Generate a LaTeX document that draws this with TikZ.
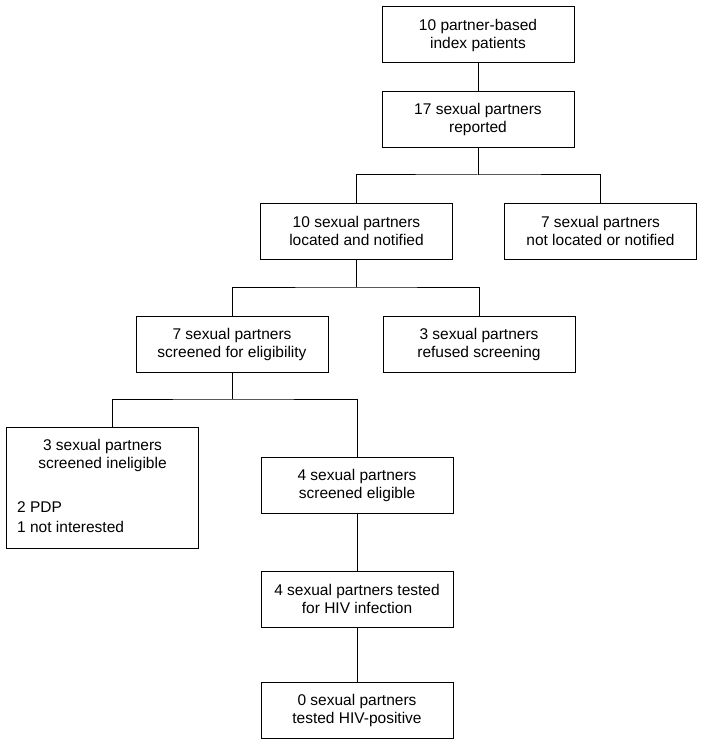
\documentclass[tikz,border=0pt]{standalone}
\usepackage{fontspec}
\setmainfont{Liberation Sans}
\begin{document}
\begin{tikzpicture}[x=1pt,y=-1pt,
  txt/.style={font=\fontsize{15.5}{18}\selectfont, inner sep=0pt},
  box/.style={txt, draw, line width=1pt, minimum width=192pt, minimum height=56pt, align=center},
  link/.style={draw, line width=1pt}]
\useasboundingbox (0,0) rectangle (704,746);
\node[box] (b1) at (478,35) {10 partner-based\\index patients};
\node[box] (b2) at (478,119.5) {17 sexual partners\\reported};
\node[box] (b3) at (356.5,231) {10 sexual partners\\located and notified};
\node[box] (b4) at (600.5,231) {7 sexual partners\\not located or notified};
\node[box] (b5) at (232,344) {7 sexual partners\\screened for eligibility};
\node[box] (b6) at (479,344) {3 sexual partners\\refused screening};
\node[box, minimum height=121pt] (b7) at (102.5,487.5) {};
\node[txt, align=center] (b7t) at (102.5,455) {3 sexual partners\\screened ineligible};
\node[txt, align=left, anchor=west, font=\fontsize{15.5}{20.5}\selectfont] (b7l) at (17,517) {2 PDP\\1 not interested};
\node[box] (b8) at (357,485) {4 sexual partners\\screened eligible};
\node[box] (b9) at (357,599) {4 sexual partners tested\\for HIV infection};
\node[box] (b10) at (357,710) {0 sexual partners\\tested HIV-positive};
\coordinate (j1) at (478,175);
\coordinate (j2) at (356.5,287);
\coordinate (j3) at (232,399);
\coordinate (b7top) at (112,427);
\draw[link] (b1) -- (b2);
\draw[link] (b2.south) -- (j1);
\draw[link] (b3.north) |- (j1) -| (b4.north);
\draw[link] (b3.south) -- (j2);
\draw[link] (b5.north) |- (j2) -| (b6.north);
\draw[link] (b5.south) -- (j3);
\draw[link] (b7top) |- (j3) -| (b8.north);
\draw[link] (b8) -- (b9);
\draw[link] (b9) -- (b10);
\end{tikzpicture}
\end{document}
